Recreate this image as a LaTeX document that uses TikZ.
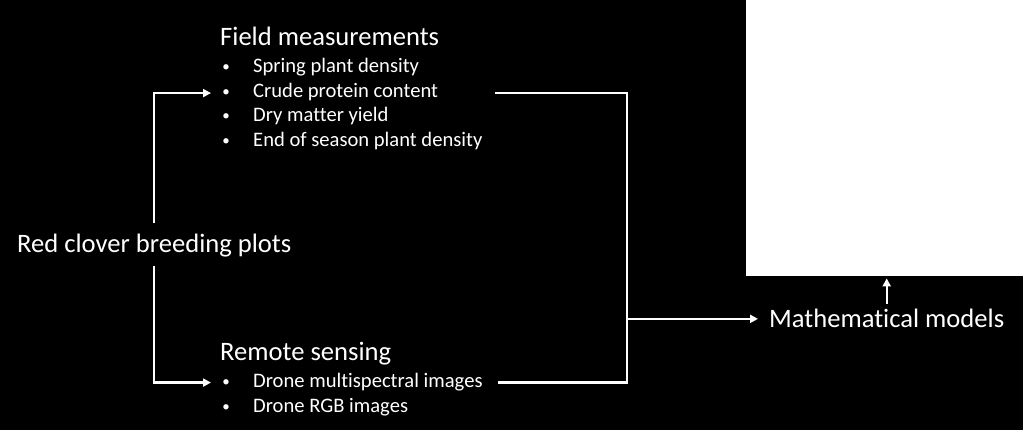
\documentclass[tikz,border=0pt]{standalone}
\usepackage{fontspec}
\setmainfont{Carlito}[Ligatures=NoCommon]
\usetikzlibrary{arrows.meta,calc}
\tikzset{
  big/.style={text=white,inner sep=0pt,anchor=base west,font=\fontsize{26.6}{30}\selectfont},
  item/.style={text=white,inner sep=0pt,anchor=base west,font=\fontsize{20.6}{24}\selectfont},
  bul/.style={text=white,inner sep=0pt,anchor=base,font=\fontsize{15}{18}\selectfont},
  ln/.style={draw=white,line width=2.2pt},
  arr/.style={ln,-{Triangle[length=8pt,width=8pt]}}
}
\begin{document}
\begin{tikzpicture}[x=1pt,y=-1pt]
\fill[black] (0,0) rectangle (1023,430);
\useasboundingbox (0,0) rectangle (1023,430);
% white panel
\node[fill=white,minimum width=277pt,minimum height=276pt,anchor=north west,inner sep=0pt] (wr) at (746,0) {};
% texts
\node[big] (red) at (17,253) {Red clover breeding plots};
\node[big] (fm) at (220,46) {Field measurements};
\node[bul] (b1) at (226,72) {•};
\node[item] (i1) at (253,73) {Spring plant density};
\node[bul] (b2) at (226,96.5) {•};
\node[item] (i2) at (253,97.5) {Crude protein content};
\node[bul] (b3) at (226,121) {•};
\node[item] (i3) at (253,122) {Dry matter yield};
\node[bul] (b4) at (226,145.5) {•};
\node[item] (i4) at (253,146.5) {End of season plant density};
\node[big] (rs) at (220,360) {Remote sensing};
\node[bul] (b5) at (226,386) {•};
\node[item] (i5) at (253,387) {Drone multispectral images};
\node[bul] (b6) at (226,411) {•};
\node[item] (i6) at (253,412) {Drone RGB images};
\node[big] (mm) at (769,328) {Mathematical models};
% helper coordinates
\path (b2.center) ++(-15,0) coordinate (t2);
\path (b5.center) ++(-15,0) coordinate (t5);
\path (mm.west) ++(-142,0) coordinate (j);
\path (mm.west) ++(-11,0) coordinate (tm);
\path (i2.east |- b2.center) ++(57,0) coordinate (r2);
\path (i5.east |- b5.center) ++(15,0) coordinate (r5);
% connectors
\draw[arr] ([yshift=11pt]red.north) |- (t2);
\draw[arr] ([yshift=-8pt]red.south) |- (t5);
\draw[ln] (r2) -| (j) |- (r5);
\draw[arr] (j) -- (tm);
\draw[arr] ([yshift=5pt]mm.north) -- ([yshift=-2pt]wr.south -| mm.north);
\end{tikzpicture}
\end{document}
